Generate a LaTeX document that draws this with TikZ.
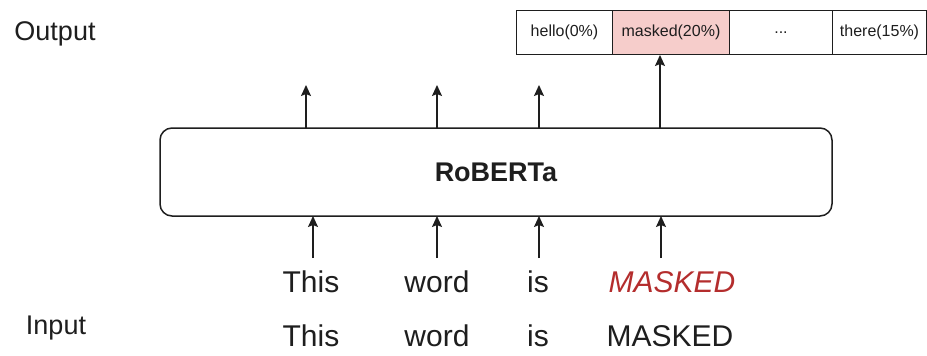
\documentclass[tikz,border=0pt]{standalone}
\usepackage{fontspec}
\setmainfont{Liberation Sans}
\usetikzlibrary{arrows.meta}
\definecolor{txt}{RGB}{30,30,30}
\definecolor{maskfill}{RGB}{246,205,203}
\definecolor{maskred}{RGB}{180,45,45}
\tikzset{
  cell/.style={draw=txt, line width=1pt, minimum height=44pt, inner sep=0pt, font=\fontsize{16}{18}\selectfont, text=txt, anchor=north west},
  word/.style={font=\fontsize{30}{34}\selectfont, text=txt, inner sep=0pt},
  lab/.style={font=\fontsize{27}{30}\selectfont, text=txt, inner sep=0pt},
  conn/.style={draw=txt, line width=1.5pt, -{Stealth[length=11pt,width=10pt,inset=2pt]}},
}
\begin{document}
\begin{tikzpicture}[x=1pt,y=-1pt]
\useasboundingbox (0,0) rectangle (927,356);
\fill[white] (0,0) rectangle (927,356);
% labels
\node[lab] (outlab) at (55,34) {Output};
\node[lab] (inlab) at (56,328) {Input};
% output cells
\node[cell, minimum width=96pt] (c1) at (516,10) {hello(0\%)};
\node[cell, minimum width=117pt, fill=maskfill] (c2) at (612,10) {masked(20\%)};
\node[cell, minimum width=103pt] (c3) at (729,10) {...};
\node[cell, minimum width=94pt] (c4) at (832,10) {there(15\%)};
% model box
\node[draw=txt, line width=1.5pt, rounded corners=12pt, minimum width=672pt, minimum height=88pt, font=\bfseries\fontsize{27}{30}\selectfont, text=txt] (rob) at (496,172) {RoBERTa};
% top outputs
\coordinate (o1) at (306,85);
\coordinate (o2) at (437,85);
\coordinate (o3) at (539,85);
\draw[conn] (306,128) -- (o1);
\draw[conn] (437,128) -- (o2);
\draw[conn] (539,128) -- (o3);
\draw[conn] (660,128) -- (c2.south -| 660,0);
% input words
\node[word] (w1) at (311,282) {This};
\node[word] (w2) at (437,282) {word};
\node[word] (w3) at (538,282) {is};
\node[word, text=maskred, font=\itshape\fontsize{30}{34}\selectfont] (w4) at (672,282) {MASKED};
\node[word] (v1) at (311,336) {This};
\node[word] (v2) at (437,336) {word};
\node[word] (v3) at (538,336) {is};
\node[word] (v4) at (670,336) {MASKED};
% input arrows
\draw[conn] (313,258) -- (313,216);
\draw[conn] (437,258) -- (437,216);
\draw[conn] (539,258) -- (539,216);
\draw[conn] (661,258) -- (661,216);
\end{tikzpicture}
\end{document}
